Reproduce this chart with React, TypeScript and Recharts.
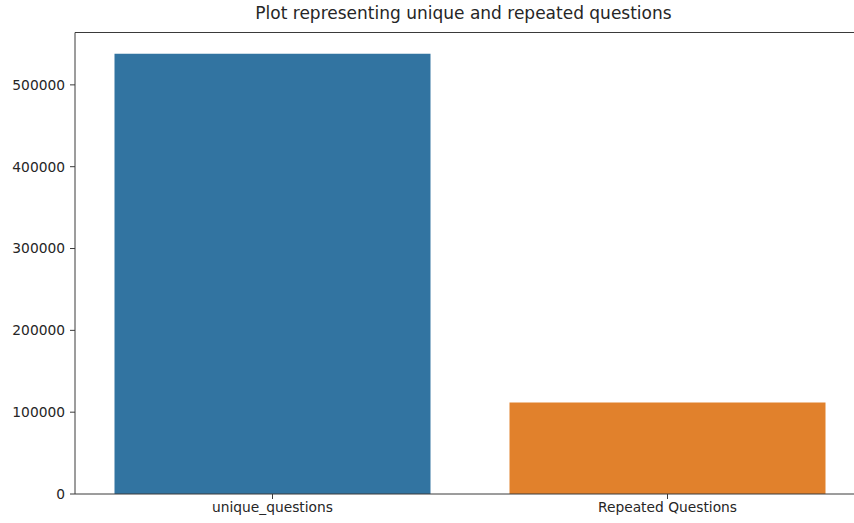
import { Bar, BarChart, Cell, ReferenceLine, XAxis, YAxis } from "recharts";

const categories = ["unique_questions", "Repeated Questions"];
const counts = [537933, 111780];
const barColors = ["#3274a1", "#e1812c"];
const yTicks = [0, 100000, 200000, 300000, 400000, 500000];
const yMax = 564000;

const data = categories.map((name, i) => ({ name, count: counts[i] }));

const font = "'DejaVu Sans', sans-serif";
const axisColor = "#3a3a3a";
const tickStyle = { fill: "#262626", fontSize: 13.8, fontFamily: font };

export default function App() {
  return (
    <div
      style={{
        position: "absolute",
        left: 0,
        top: 0,
        width: 854,
        height: 523,
        overflow: "hidden",
        background: "#fff"
      }}
    >
      <div
        style={{
          position: "absolute",
          left: 75,
          width: 777,
          top: 3,
          textAlign: "center",
          fontFamily: font,
          fontSize: 17,
          color: "#262626"
        }}
      >
        Plot representing unique and repeated questions
      </div>
      {/* the plot runs past the right edge of the picture, as in the original screenshot */}
      <BarChart
        width={866}
        height={523}
        data={data}
        margin={{ top: 32.5, right: 1, left: 0, bottom: 0 }}
        barCategoryGap="10%"
      >
        <XAxis
          dataKey="name"
          height={29}
          axisLine={{ stroke: axisColor }}
          tickLine={{ stroke: axisColor }}
          tickSize={5}
          tickMargin={3}
          tick={tickStyle}
          interval={0}
        />
        <YAxis
          width={75}
          domain={[0, yMax]}
          ticks={yTicks}
          axisLine={{ stroke: axisColor }}
          tickLine={{ stroke: axisColor }}
          tickSize={5}
          tickMargin={5}
          tick={tickStyle}
        />
        <ReferenceLine y={yMax} stroke={axisColor} ifOverflow="visible" />
        <Bar dataKey="count" isAnimationActive={false}>
          {data.map((d, i) => (
            <Cell key={d.name} fill={barColors[i]} />
          ))}
        </Bar>
      </BarChart>
    </div>
  );
}
